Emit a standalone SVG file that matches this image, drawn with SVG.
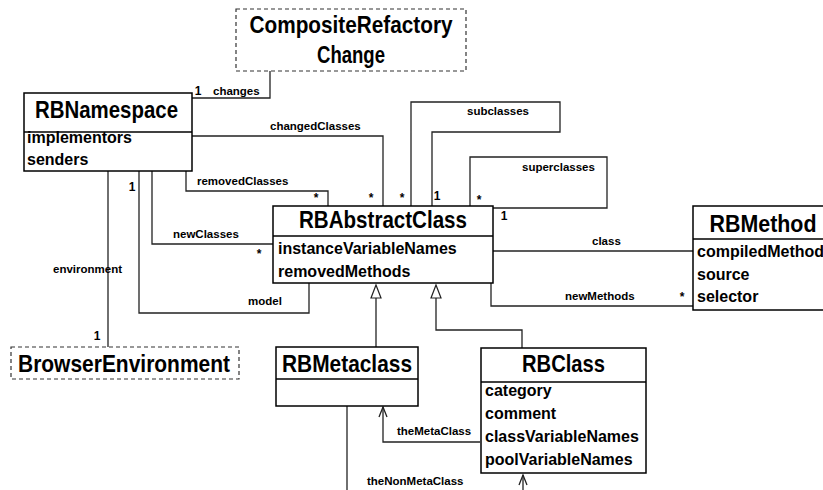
<svg xmlns="http://www.w3.org/2000/svg" width="823" height="490" viewBox="0 0 823 490">
<style>
text{font-family:"Liberation Sans",Arial,sans-serif;font-weight:bold;fill:#000}
.t{font-size:24px;text-anchor:middle}
.a{font-size:16px}
.l{font-size:11.5px}
.m{font-size:12px;text-anchor:middle}
.box{fill:#fff;stroke:#000;stroke-width:1.5}
.dash{fill:#fff;stroke:#333;stroke-width:1.2;stroke-dasharray:4,3}
.c{fill:none;stroke:#222;stroke-width:1.3}
.tri{fill:#fff;stroke:#222;stroke-width:1.2}
</style>
<rect width="823" height="490" fill="#fff"/>
<g id="connectors">
<path class="c" d="M270,71 V98 H192"/>
<path class="c" d="M192,136 H383 V206"/>
<path class="c" d="M186,171 V191 H328 V206"/>
<path class="c" d="M411,206 V102 H560 V132 H432 V206"/>
<path class="c" d="M470,206 V157 H607 V208 H493"/>
<path class="c" d="M493,251 H693"/>
<path class="c" d="M491,283 V306 H693"/>
<path class="c" d="M152,171 V244 H273"/>
<path class="c" d="M139,171 V313 H309 V283"/>
<path class="c" d="M108,171 V347"/>
<path class="c" d="M376,298 V347"/>
<path class="tri" d="M376,285 L381,298 L371,298 Z"/>
<path class="c" d="M436,298 V330 H522 V348"/>
<path class="tri" d="M436,285 L441,298 L431,298 Z"/>
<path class="c" d="M480,442 H383 V407"/>
<path class="c" d="M379,417 L383,407 L387,417"/>
<path class="c" d="M347,406 V490"/>
<path class="c" d="M523,490 V475"/>
<path class="c" d="M519,485 L523,475 L527,485"/>
<text class="m" x="198" y="95">1</text>
<text class="l" x="213" y="95">changes</text>
<text class="l" x="270" y="130">changedClasses</text>
<text class="l" x="197" y="185">removedClasses</text>
<text class="l" x="467" y="115">subclasses</text>
<text class="l" x="522" y="171">superclasses</text>
<text class="l" x="592" y="245">class</text>
<text class="l" x="565" y="300">newMethods</text>
<text class="l" x="173" y="238">newClasses</text>
<text class="l" x="248" y="305">model</text>
<text class="l" x="53" y="273">environment</text>
<text class="l" x="397" y="435">theMetaClass</text>
<text class="l" x="367" y="485">theNonMetaClass</text>
<text class="m" x="132" y="191">1</text>
<text class="m" x="97" y="340">1</text>
<text class="m" x="316" y="202">*</text>
<text class="m" x="371" y="202">*</text>
<text class="m" x="402" y="202">*</text>
<text class="m" x="437" y="200">1</text>
<text class="m" x="479" y="204">*</text>
<text class="m" x="504" y="220">1</text>
<text class="m" x="259" y="258">*</text>
<text class="m" x="682" y="301">*</text>
</g>
<g id="CompositeRefactoryChange">
<rect class="dash" x="236" y="9" width="230" height="62"/>
<text class="t" x="351" y="33" textLength="203" lengthAdjust="spacingAndGlyphs">CompositeRefactory</text>
<text class="t" x="351" y="63" textLength="68" lengthAdjust="spacingAndGlyphs">Change</text>
</g>
<g id="RBNamespace">
<rect class="box" x="24" y="93" width="168" height="78"/>
<line class="box" x1="24" y1="132" x2="192" y2="132"/>
<text class="t" x="106.5" y="118" textLength="143" lengthAdjust="spacingAndGlyphs">RBNamespace</text>
<text class="a" x="27" y="143">implementors</text>
<text class="a" x="27" y="165">senders</text>
</g>
<g id="RBAbstractClass">
<rect class="box" x="273" y="206" width="220" height="77"/>
<line class="box" x1="273" y1="236" x2="493" y2="236"/>
<text class="t" x="383" y="228" textLength="168" lengthAdjust="spacingAndGlyphs">RBAbstractClass</text>
<text class="a" x="278" y="254">instanceVariableNames</text>
<text class="a" x="278" y="277">removedMethods</text>
</g>
<g id="RBMethod">
<rect class="box" x="693" y="206" width="142" height="104"/>
<line class="box" x1="693" y1="239" x2="835" y2="239"/>
<text class="t" x="763" y="232" textLength="107" lengthAdjust="spacingAndGlyphs">RBMethod</text>
<text class="a" x="697" y="257">compiledMethod</text>
<text class="a" x="697" y="280">source</text>
<text class="a" x="697" y="302">selector</text>
</g>
<g id="BrowserEnvironment">
<rect class="dash" x="11" y="347" width="228" height="32"/>
<text class="t" x="124" y="372" textLength="212" lengthAdjust="spacingAndGlyphs">BrowserEnvironment</text>
</g>
<g id="RBMetaclass">
<rect class="box" x="276" y="347" width="142" height="59"/>
<line class="box" x1="276" y1="379" x2="418" y2="379"/>
<text class="t" x="347" y="372" textLength="130" lengthAdjust="spacingAndGlyphs">RBMetaclass</text>
</g>
<g id="RBClass">
<rect class="box" x="481" y="348" width="165" height="125"/>
<line class="box" x1="481" y1="382" x2="646" y2="382"/>
<text class="t" x="563.5" y="372" textLength="83" lengthAdjust="spacingAndGlyphs">RBClass</text>
<text class="a" x="485" y="396">category</text>
<text class="a" x="485" y="419">comment</text>
<text class="a" x="485" y="442">classVariableNames</text>
<text class="a" x="485" y="465">poolVariableNames</text>
</g>
</svg>
